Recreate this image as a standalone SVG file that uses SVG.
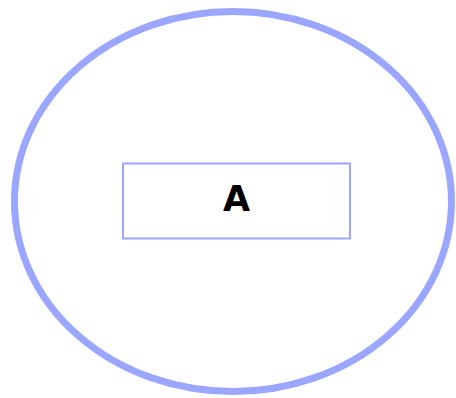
<svg xmlns="http://www.w3.org/2000/svg" width="456" height="398" viewBox="0 0 456 398">
<style>
.outer{fill:none;stroke:#9aa6ff;stroke-width:7}
.box{fill:#ffffff;stroke:#9aa6ff;stroke-width:2}
.lbl{font-family:"DejaVu Sans",sans-serif;font-weight:bold;font-size:35px;fill:#000000}
</style>
<rect width="456" height="398" fill="#ffffff"/>
<g id="container">
<ellipse class="outer" cx="233" cy="201.5" rx="218.5" ry="190"/>
</g>
<g id="node-A">
<rect class="box" x="123" y="163.5" width="227" height="75"/>
<text class="lbl" x="236.5" y="210.5" text-anchor="middle">A</text>
</g>
<g id="connectors"></g>
</svg>
